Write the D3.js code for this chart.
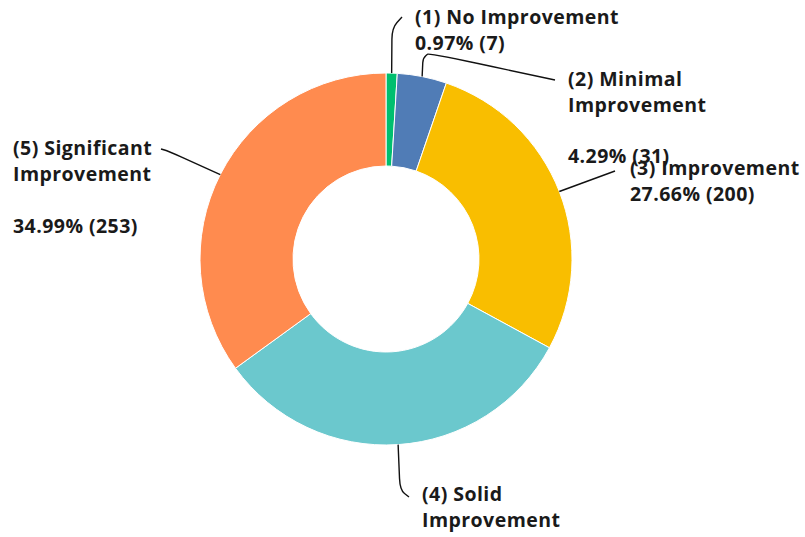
<!DOCTYPE html>
<html><head><meta charset="utf-8">
<script src="https://cdn.jsdelivr.net/npm/d3@7"></script>
<style>
html,body{margin:0;padding:0;background:#fff;}
text{font-family:"Open Sans",sans-serif;font-weight:700;font-size:19.5px;letter-spacing:0.45px;fill:#1a1a1a;}
</style></head>
<body>
<svg id="chart" width="805" height="537"></svg>
<script>
const categories = ["(1) No Improvement", "(2) Minimal Improvement", "(3) Improvement", "(4) Solid Improvement", "(5) Significant Improvement"];
const counts = [7, 31, 200, 232, 253];
const percentLabels = ["0.97%", "4.29%", "27.66%", "32.09%", "34.99%"];
const colors = ["#00BF6F", "#507CB6", "#F9BE00", "#6BC8CD", "#FF8B4F"];

// label layout (text lines, anchor positions, leader geometry)
const labelLayout = [
  {lines: ["(1) No Improvement", "0.97% (7)"], x: 415, y: 24, lead: [[392, 28], [402, 17]]},
  {lines: ["(2) Minimal", "Improvement", "", "4.29% (31)"], x: 568, y: 86, lead: [[423, 58], [429, 53], [555, 80]], gaps: [0, 26, 0, 51]},
  {lines: ["(3) Improvement", "27.66% (200)"], x: 630, y: 175, lead: [[615, 171]]},
  {lines: ["(4) Solid", "Improvement"], x: 422, y: 501, lead: [[400, 490], [409, 497]]},
  {lines: ["(5) Significant", "Improvement", "", "34.99% (253)"], x: 13, y: 155, lead: [[168, 151], [161, 149]], gaps: [0, 26, 0, 52]}
];

const svg = d3.select("#chart");
const cx = 386, cy = 259, rOuter = 186, rInner = 93;
const g = svg.append("g").attr("transform", `translate(${cx},${cy})`);

const pie = d3.pie().sort(null).value(d => d);
const arcs = pie(counts);
const arc = d3.arc().innerRadius(rInner).outerRadius(rOuter);

g.selectAll("path.slice").data(arcs).join("path")
  .attr("class", "slice")
  .attr("d", arc)
  .attr("fill", (d, i) => colors[i])
  .attr("stroke", "#fff").attr("stroke-width", 1);

// leader lines
arcs.forEach((d, i) => {
  const mid = (d.startAngle + d.endAngle) / 2;
  const sx = cx + rOuter * Math.sin(mid);
  const sy = cy - rOuter * Math.cos(mid);
  const L = labelLayout[i];
  const pts = [[sx, sy], ...L.lead];
  let p = d3.path();
  p.moveTo(pts[0][0], pts[0][1]);
  if (pts.length === 2) {
    p.lineTo(pts[1][0], pts[1][1]);
  } else {
    for (let k = 1; k < pts.length - 1; k++) {
      const a = pts[k - 1], b = pts[k], c = pts[k + 1];
      const p1 = [b[0] + (a[0]-b[0])*0.25, b[1] + (a[1]-b[1])*0.25];
      p.lineTo(p1[0], p1[1]);
      p.quadraticCurveTo(b[0], b[1], b[0] + (c[0]-b[0])*0.5, b[1] + (c[1]-b[1])*0.5);
    }
    const last = pts[pts.length - 1];
    p.lineTo(last[0], last[1]);
  }
  svg.append("path").attr("d", p.toString()).attr("fill", "none")
    .attr("stroke", "#111").attr("stroke-width", 1.4);
});

// label text
labelLayout.forEach((L, i) => {
  const t = svg.append("text").attr("x", L.x).attr("y", L.y);
  let dy = 0;
  L.lines.forEach((line, k) => {
    const step = L.gaps ? L.gaps[k] : (k === 0 ? 0 : 26);
    dy += step;
    if (line === "") return;
    t.append("tspan").attr("x", L.x).attr("y", L.y + dy).text(line);
  });
});
</script>
</body></html>
